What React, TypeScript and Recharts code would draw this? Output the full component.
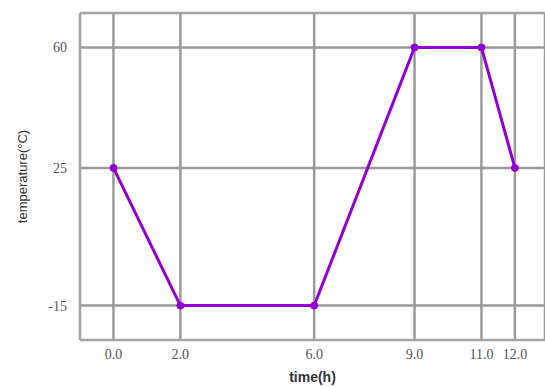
import {
  CartesianGrid,
  Line,
  LineChart,
  ReferenceLine,
  XAxis,
  YAxis,
} from "recharts";

// time (h) and temperature (°C)
const times = [0, 2, 6, 9, 11, 12];
const temperatures = [25, -15, -15, 60, 60, 25];

const xTicks = [0, 2, 6, 9, 11, 12];
const yTicks = [-15, 25, 60];

const chartData = times.map((t, i) => ({ time: t, temperature: temperatures[i] }));

const tickStyle = {
  fontFamily: "'Liberation Serif', 'DejaVu Serif', serif",
  fontSize: 14,
  fill: "#555",
};

const labelFont = "'Liberation Sans', Arial, sans-serif";

export default function App() {
  return (
    <div style={{ width: 545, height: 387, overflow: "hidden", background: "#fff" }}>
      <style>{"body{margin:0}"}</style>
      <LineChart
        width={545}
        height={387}
        data={chartData}
        margin={{ top: 13, right: 0, left: 0, bottom: 0 }}
      >
        <CartesianGrid stroke="#9a9a9a" strokeWidth={2.5} />
        <XAxis
          dataKey="time"
          type="number"
          domain={[-1, 12.9]}
          ticks={xTicks}
          tickFormatter={(v) => v.toFixed(1)}
          height={47}
          tickLine={false}
          tickSize={0}
          tickMargin={9}
          tick={tickStyle}
          axisLine={{ stroke: "#a8a8a8", strokeWidth: 1.5 }}
          label={{
            value: "time(h)",
            position: "insideBottom",
            offset: 5,
            style: { fontFamily: labelFont, fontSize: 14, fill: "#333", fontWeight: 600 },
          }}
        />
        <YAxis
          type="number"
          domain={[-25, 70]}
          ticks={yTicks}
          width={80}
          tickLine={false}
          tickSize={0}
          tickMargin={13}
          tick={tickStyle}
          axisLine={{ stroke: "#a8a8a8", strokeWidth: 1.5 }}
          label={{
            value: "temperature(°C)",
            content: (props: any) => {
              const vb = props.viewBox || {};
              const cx = 22;
              const cy = vb.y + vb.height / 2;
              return (
                <text
                  x={cx}
                  y={cy}
                  transform={`rotate(-90 ${cx} ${cy})`}
                  textAnchor="middle"
                  dominantBaseline="central"
                  fontFamily={labelFont}
                  fontSize={13}
                  fill="#333"
                >
                  temperature(°C)
                </text>
              );
            },
          }}
        />
        <ReferenceLine y={70} stroke="#a8a8a8" strokeWidth={1.5} />
        <Line
          type="linear"
          dataKey="temperature"
          stroke="#9400d3"
          strokeWidth={3}
          dot={{ r: 3.5, fill: "#9400d3", stroke: "#9400d3", strokeWidth: 1 }}
          activeDot={false}
          isAnimationActive={false}
        />
      </LineChart>
    </div>
  );
}
